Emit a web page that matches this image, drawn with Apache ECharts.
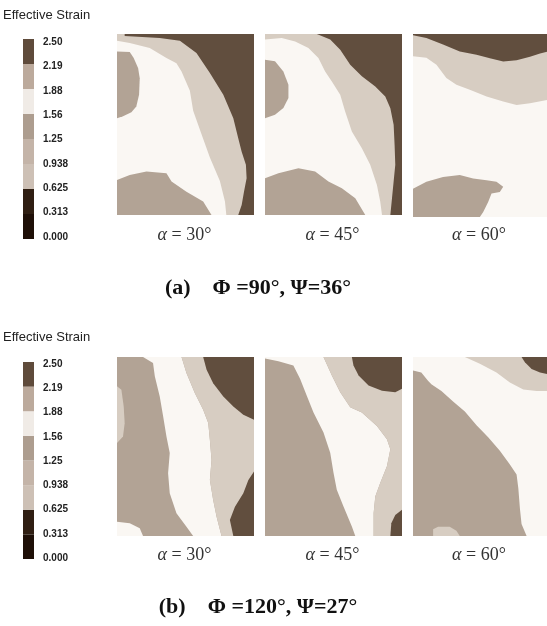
<!DOCTYPE html>
<html>
<head>
<meta charset="utf-8">
<script src="https://cdn.jsdelivr.net/npm/echarts@6/dist/echarts.min.js"></script>
<style>html,body{margin:0;padding:0;background:#fff}#c{width:547px;height:626px}</style>
</head>
<body>
<div id="c"></div>
<script>
// ---- colour scale (contour levels) ----
const levelValues = [0, 0.3125, 0.625, 0.9375, 1.25, 1.5625, 1.875, 2.1875, 2.5];
const tickLabels = ['0.000', '0.313', '0.625', '0.938', '1.25', '1.56', '1.88', '2.19', '2.50'];
const legendColors = ['#1e0f07', '#2f1e12', '#cdc0b5', '#c4b4a8', '#ad9d8f', '#f0ebe6', '#bcaa9c', '#5f4b3b'];
const fieldColors = ['#1e0f07', '#2f1e12', '#cdc0b5', '#c4b4a8', '#b2a395', '#faf7f3', '#d7cdc2', '#614e3e'];

// strain values representative of each region
const vMedium = 1.40, vWhite = 1.72, vBand = 2.03, vDark = 2.35;

// ---- region outlines, in % of each map (x left->right, y top->bottom) ----
const fullPanel = [[0,0],[100,0],[100,100],[0,100]];

// (a) alpha = 30
const a30Band = [[0,0],[100,0],[100,100],[79.8,100],[78.8,92.6],[75.1,81.2],[67.8,68.3],[61.7,55.4],[55.6,42.4],[53.2,31.4],[47.1,20.7],[43.4,16.1],[36.1,13.3],[23.9,7.7],[9.3,5],[0,3.7]];
const a30Dark = [[5.6,0],[5.6,1.1],[31.2,2.2],[45.9,3.7],[58,10.5],[67.8,21.6],[77.6,33.6],[84.9,46.5],[88.5,57.6],[91,65],[94.1,72.3],[94.6,79.7],[92.7,87.1],[91,94.5],[88.5,100],[100,100],[100,0]];
const a30MedLeft = [[0,9.6],[9.3,10],[12.2,13.3],[15.4,18.8],[16.6,24.4],[16.1,33.6],[14.1,40],[10.5,43.2],[4.4,45.4],[0,46.5]];
const a30MedBottom = [[0,80.6],[9.3,77.9],[21.5,76],[36.1,77],[39.8,81.5],[50.7,87.1],[62.9,92.6],[69,100],[0,100]];

// (a) alpha = 45
const a45Band = [[0,0],[100,0],[100,100],[85.4,100],[84.1,92.6],[81.7,83.4],[76.8,72.3],[70.7,63.1],[63.4,53.9],[58.5,42.8],[54.9,33.6],[48.8,26.2],[43.9,20.7],[39,13.3],[31.7,7.7],[22,4.1],[12.2,2.2],[0,3.1]];
const a45Dark = [[37.8,0],[47.6,3.1],[54.9,8.7],[62.2,17],[70.7,23.4],[80.5,29],[87.8,34.5],[91.5,41],[93.9,50.2],[94.6,61.3],[95.1,72.3],[93.9,81.5],[92.7,90.8],[91.5,100],[100,100],[100,0]];
const a45MedLeft = [[0,14.2],[7.3,15.1],[13.4,20.7],[17.1,28],[17.1,35.4],[13.4,40.9],[7.3,44.6],[0,46.5]];
const a45MedBottom = [[0,79.7],[9.8,76.9],[24.4,74.2],[36.6,76],[46.3,81.5],[56.1,85.2],[65.9,90.8],[73.2,100],[0,100]];

// (a) alpha = 60
const a60Band = [[0,0],[100,0],[100,36],[87.3,37.8],[77.3,38.8],[67.3,36.9],[54.9,34.2],[42.4,30.5],[32.4,27.8],[24.9,24.1],[17.5,16.8],[10,13],[0,12.2]];
const a60Dark = [[0,0],[0,0.7],[10,2.2],[22.4,5.8],[34.9,9.5],[47.4,11.3],[57.4,13.2],[67.3,15],[77.3,14.3],[87.3,12.4],[94.8,10.6],[100,9.7],[100,0]];
const a60MedBottom = [[0,84.5],[10,80.8],[22.4,78.1],[34.9,77.1],[44.9,79],[54.9,79.9],[62.3,80.8],[67.3,83.5],[64.8,86.3],[58.6,87.2],[56.1,91.8],[52.4,97.3],[49.9,100],[0,100]];

// (b) alpha = 30
const b30White = [[19,0],[47.1,0],[50.7,9],[56.8,20.1],[62.9,29.5],[66.6,36.9],[67.8,46.3],[69,57.5],[67.8,68.7],[70.2,79.9],[72.7,89.2],[76.3,100],[55.6,100],[50.7,94.8],[43.4,87.3],[38.5,76.1],[37.3,64.9],[38.5,53.7],[36.1,44.4],[33.7,33.2],[31.2,22],[27.6,10.8],[26.3,3.4]];
const b30Band = [[47.1,0],[100,0],[100,100],[76.3,100],[72.7,89.2],[70.2,79.9],[67.8,68.7],[69,57.5],[67.8,46.3],[66.6,36.9],[62.9,29.5],[56.8,20.1],[50.7,9]];
const b30DarkTop = [[62.9,0],[65.4,7.1],[70.2,14.6],[77.6,22],[84.9,27.6],[92.2,32.3],[100,35.1],[100,0]];
const b30DarkBottom = [[100,64],[95.9,68.7],[92.2,76.1],[86.1,83.6],[82.4,91],[84.9,100],[100,100]];
const b30BandLeft = [[0,16.4],[3.2,18.3],[4.9,27.6],[5.6,37],[4.4,44.4],[0,48.1]];
const b30WhiteCorner = [[0,92],[9.3,92.9],[16.6,95.7],[19,100],[0,100]];

// (b) alpha = 45
const b45White = [[0,0],[42.7,0],[48.8,10.3],[54.9,19.7],[62.2,28.1],[70.7,31],[81.7,38.5],[89,46],[91.5,51.6],[89,61],[84.1,70.4],[80.5,77.9],[79.3,87.2],[79.3,100],[65.9,100],[63.4,94.7],[57.3,83.5],[52.4,74.1],[50,64.7],[47.6,53.5],[42.7,42.2],[35.4,31],[30.5,21.6],[25.6,12.2],[20.7,4.7],[9.8,2.4],[0,0.9]];
const b45Band = [[42.7,0],[100,0],[100,100],[79.3,100],[79.3,87.2],[80.5,77.9],[84.1,70.4],[89,61],[91.5,51.6],[89,46],[81.7,38.5],[70.7,31],[62.2,28.1],[54.9,19.7],[48.8,10.3]];
const b45DarkTop = [[63.4,0],[64.6,4.7],[68.3,10.3],[75.6,15.9],[85.4,18.8],[95.1,19.7],[100,17.8],[100,0]];
const b45DarkBottom = [[100,85.4],[95.1,88.2],[92.2,92.9],[91.5,100],[100,100]];

// (b) alpha = 60
const b60White = [[0,0],[100,0],[100,100],[84.8,100],[81,93.3],[79.8,84.8],[78.6,73.3],[77.3,65.7],[72.3,60],[64.8,52.4],[56.1,44.8],[47.4,38.1],[38.7,30.5],[29.9,24.8],[21.2,19],[13.7,15.2],[11.2,13.3],[6.2,8.6],[0,7.6]];
const b60Band = [[38.7,0],[100,0],[100,19],[92.3,19],[82.3,18.1],[72.3,14.3],[62.3,8.6],[49.9,3.8]];
const b60Dark = [[81,0],[83.5,2.9],[88.5,6.7],[94.8,8.6],[100,9.5],[100,0]];
const b60BandBlob = [[15,96.2],[18.7,94.9],[27.4,94.9],[32.4,97.1],[34.9,100],[15,100]];

// panels: layers drawn in order
const panelA30 = [[vWhite, fullPanel],[vBand, a30Band],[vDark, a30Dark],[vMedium, a30MedLeft],[vMedium, a30MedBottom]];
const panelA45 = [[vWhite, fullPanel],[vBand, a45Band],[vDark, a45Dark],[vMedium, a45MedLeft],[vMedium, a45MedBottom]];
const panelA60 = [[vWhite, fullPanel],[vBand, a60Band],[vDark, a60Dark],[vMedium, a60MedBottom]];
const panelB30 = [[vMedium, fullPanel],[vWhite, b30White],[vBand, b30Band],[vDark, b30DarkTop],[vDark, b30DarkBottom],[vBand, b30BandLeft],[vWhite, b30WhiteCorner]];
const panelB45 = [[vMedium, fullPanel],[vWhite, b45White],[vBand, b45Band],[vDark, b45DarkTop],[vDark, b45DarkBottom]];
const panelB60 = [[vMedium, fullPanel],[vWhite, b60White],[vBand, b60Band],[vDark, b60Dark],[vBand, b60BandBlob]];

const panels = [panelA30, panelA45, panelA60, panelB30, panelB45, panelB60];
const alphaLabels = ['30°', '45°', '60°', '30°', '45°', '60°'];
const captions = ['(a)    Φ =90°, Ψ=36°', '(b)    Φ =120°, Ψ=27°'];

// ---- layout ----
const panelBoxes = [
  {left:117, top:34, width:137, height:181},
  {left:265, top:34, width:137, height:181},
  {left:413, top:34, width:134, height:183},
  {left:117, top:357, width:137, height:179},
  {left:265, top:357, width:137, height:179},
  {left:413, top:357, width:134, height:179}
];
const legendBoxes = [
  {left:23, top:39, width:11, height:200},
  {left:23, top:362, width:11, height:197}
];
const legendLabelBoxes = [
  {left:23, top:42, width:11, height:195},
  {left:23, top:364, width:11, height:194}
];

function bandIndex(v) {
  for (let i = 0; i < levelValues.length - 1; i++) {
    if (v >= levelValues[i] && v < levelValues[i + 1]) return i;
  }
  return levelValues.length - 2;
}

const grid = [], xAxis = [], yAxis = [], series = [];
panels.forEach((panel, k) => {
  grid.push(Object.assign({}, panelBoxes[k]));
  xAxis.push({type:'value', gridIndex:k, min:0, max:100, show:false});
  yAxis.push({type:'value', gridIndex:k, min:0, max:100, inverse:true, show:false});
  series.push({
    type:'custom', xAxisIndex:k, yAxisIndex:k, silent:true, animation:false,
    clip:true,
    data: panel.map(l => [50, 50, l[0]]),
    renderItem: function (params, api) {
      const layer = panel[params.dataIndex];
      return {
        type:'polygon',
        shape:{points: layer[1].map(p => api.coord(p))},
        style:{fill: fieldColors[bandIndex(layer[0])], stroke:null}
      };
    }
  });
});

legendBoxes.forEach((box, j) => {
  const gi = grid.length;
  grid.push(Object.assign({}, box));
  xAxis.push({type:'value', gridIndex:gi, min:0, max:1, show:false});
  yAxis.push({type:'value', gridIndex:gi, min:0, max:2.5, interval:0.3125, show:false});
  series.push({
    type:'custom', xAxisIndex:gi, yAxisIndex:gi, silent:true, animation:false,
    data: legendColors.map((c, i) => [0.5, (levelValues[i] + levelValues[i + 1]) / 2]),
    renderItem: function (params, api) {
      const i = params.dataIndex;
      const p0 = api.coord([0, levelValues[i + 1]]);
      const p1 = api.coord([1, levelValues[i]]);
      return {type:'rect', shape:{x:p0[0], y:p0[1], width:p1[0]-p0[0], height:p1[1]-p0[1]}, style:{fill: legendColors[i]}};
    }
  });
  // label axis
  const li = grid.length;
  grid.push(Object.assign({}, legendLabelBoxes[j]));
  xAxis.push({type:'value', gridIndex:li, min:0, max:1, show:false});
  yAxis.push({
    type:'value', gridIndex:li, min:0, max:2.5, interval:0.3125, position:'right',
    axisLine:{show:false}, axisTick:{show:false}, splitLine:{show:false},
    axisLabel:{
      margin:9, color:'#222', fontSize:10, fontWeight:'bold', fontFamily:'Liberation Sans',
      formatter: function (v) { return tickLabels[levelValues.findIndex(l => Math.abs(l - v) < 1e-6)]; }
    }
  });
});

// ---- texts ----
const graphic = [];
[15, 337].forEach(y => graphic.push({type:'text', x:3, y:y, style:{text:'Effective Strain', font:'13px "Liberation Sans"', fill:'#222', verticalAlign:'middle'}}));
panelBoxes.forEach((b, k) => {
  const cy = k < 3 ? 235 : 555;
  graphic.push({
    type:'text', x: b.left + b.width / 2 - 1, y: cy,
    style:{
      text:'{a|α} = ' + alphaLabels[k],
      align:'center', verticalAlign:'middle',
      font:'18px "Liberation Serif"', fill:'#333',
      rich:{a:{font:'italic 18px "Liberation Serif"', fill:'#333'}}
    }
  });
});
[288, 607].forEach((y, j) => graphic.push({
  type:'text', x:258, y:y,
  style:{text:captions[j], align:'center', verticalAlign:'middle', font:'bold 22px "Liberation Serif"', fill:'#111'}
}));

const chart = echarts.init(document.getElementById('c'), null, {renderer:'canvas'});
chart.setOption({animation:false, backgroundColor:'#fff', grid, xAxis, yAxis, series, graphic});
</script>
</body>
</html>
